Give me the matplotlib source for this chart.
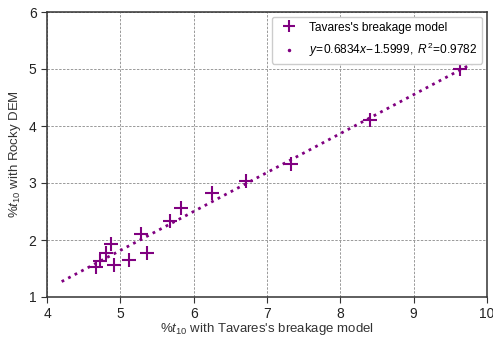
import matplotlib
matplotlib.use("Agg")
import matplotlib.pyplot as plt
from matplotlib.lines import Line2D
import numpy as np

plt.rcParams['font.family'] = ['Liberation Sans', 'DejaVu Sans']
plt.rcParams['mathtext.fontset'] = 'custom'
plt.rcParams['mathtext.rm'] = 'Liberation Sans'
plt.rcParams['mathtext.it'] = 'Liberation Sans:italic'

x_tavares = [4.67, 4.72, 4.80, 4.87, 4.91, 5.12, 5.28, 5.37, 5.68, 5.83, 6.25, 6.71, 7.33, 8.41, 9.63]
y_rocky = [1.53, 1.63, 1.77, 1.93, 1.56, 1.65, 2.11, 1.77, 2.33, 2.56, 2.82, 3.04, 3.33, 4.10, 5.00]
slope = 0.6834
intercept = -1.5999
fit_range = [4.2, 9.8]

fig = plt.figure(figsize=(4.93, 3.40), dpi=100)
ax = fig.add_axes([47/493, 1-297/340, 440/493, 285/340])

purple = '#800080'
ax.scatter(x_tavares, y_rocky, marker='+', s=110, linewidths=1.5, color=purple, zorder=3)
xf = np.linspace(fit_range[0], fit_range[1], 100)
ax.plot(xf, slope*xf + intercept, linestyle=':', linewidth=2, color=purple, zorder=2)

ax.set_xlim(4, 10)
ax.set_ylim(1, 6)
ax.set_xticks(range(4, 11))
ax.set_yticks(range(1, 7))
ax.grid(True, linestyle=(0, (2.5, 1.5)), color='#999999', linewidth=0.7)
ax.tick_params(labelsize=10, direction='out', length=4, colors='#333333', labelcolor='#222222')
ax.set_xlabel(r"%$t_{10}$ with Tavares's breakage model", fontsize=9.5, labelpad=0, color='#333333')
ax.set_ylabel(r"%$t_{10}$ with Rocky DEM", fontsize=9.5, labelpad=4, color='#333333')
for s in ax.spines.values():
    s.set_linewidth(1.1)
    s.set_color('#333333')

handles = [
    Line2D([], [], linestyle='none', marker='+', markersize=9, markeredgewidth=1.5, color=purple),
    Line2D([], [], linestyle='none', marker='.', markersize=3, color=purple),
]
labels = ["Tavares's breakage model", r"$y\!=\!0.6834x\!-\!1.5999,\ R^2\!=\!0.9782$"]
ax.legend(handles, labels, loc='upper right', fontsize=8.6, framealpha=1,
          handlelength=2.0, borderaxespad=0.4, handletextpad=0.7, labelspacing=0.6)

fig.savefig('out.png', dpi=100)
